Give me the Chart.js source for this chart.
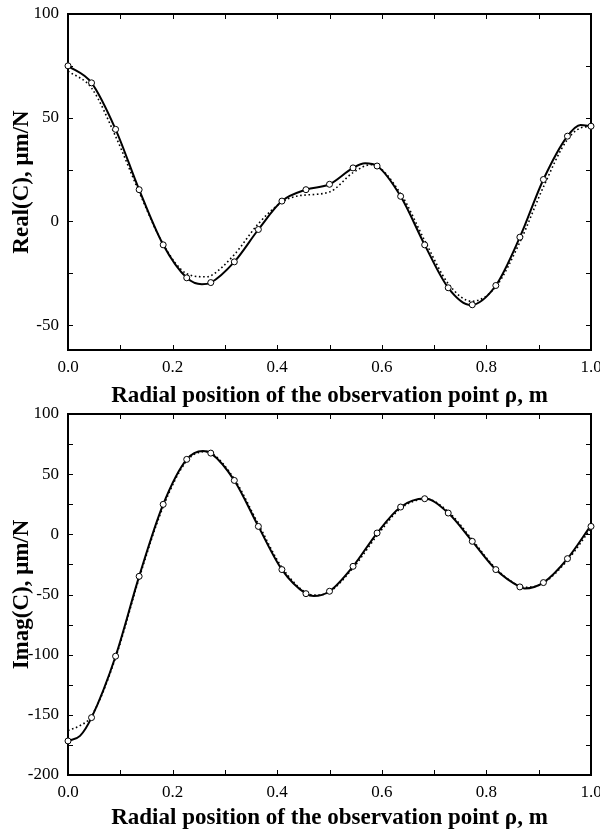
<!DOCTYPE html>
<html>
<head>
<meta charset="utf-8">
<script src="https://cdn.jsdelivr.net/npm/chart.js@4.4.1/dist/chart.umd.min.js"></script>
<style>
  html, body { margin: 0; padding: 0; background: #fff; }
  body { width: 600px; height: 836px; position: relative; overflow: hidden; }
  .box { position: absolute; left: 0; width: 600px; }
  #top { top: 0; height: 410px; }
  #bot { top: 400px; height: 436px; }
</style>
</head>
<body>
<div class="box" id="top"><canvas id="realChart" width="600" height="410"></canvas></div>
<div class="box" id="bot"><canvas id="imagChart" width="600" height="436"></canvas></div>
<script>
// sample points (open circles), same x positions for both panels
var circleX = [0, 0.045, 0.091, 0.136, 0.182, 0.227, 0.273, 0.318, 0.364, 0.409, 0.455, 0.5,
               0.545, 0.591, 0.636, 0.682, 0.727, 0.773, 0.818, 0.864, 0.909, 0.955, 1.0];

// Real(C)
var realCircleY = [75, 66.8, 44.4, 15.3, -11.3, -27.2, -29.5, -19.5, -3.9, 9.8, 15.3, 17.9,
                   25.8, 26.7, 12.1, -11.3, -32, -40.2, -30.9, -7.6, 20.2, 41.1, 45.9];
var realSolidX = [0, 0.045, 0.091, 0.136, 0.182, 0.227, 0.256, 0.273, 0.318, 0.364, 0.409, 0.455, 0.5,
                  0.545, 0.568, 0.591, 0.636, 0.682, 0.727, 0.77, 0.818, 0.864, 0.909, 0.955, 0.98, 1.0];
var realSolidY = [75, 66.8, 44.4, 15.3, -11.3, -27.2, -30.3, -29.5, -19.5, -3.9, 9.8, 15.3, 17.9,
                  25.8, 28.0, 26.7, 12.1, -11.3, -32, -40.3, -30.9, -7.6, 20.2, 41.1, 46.5, 45.9];
var realDotX = [0, 0.045, 0.091, 0.136, 0.182, 0.227, 0.262, 0.273, 0.318, 0.364, 0.409, 0.44, 0.5,
                0.545, 0.58, 0.636, 0.682, 0.727, 0.772, 0.818, 0.864, 0.909, 0.955, 0.99, 1.0];
var realDotY = [72.5, 64.3, 41, 14.2, -11, -25.2, -26.7, -26.2, -16, -1.1, 9.3, 12.3, 14.2,
                23.5, 27.4, 13.4, -9.2, -30, -38.5, -31.5, -10, 16.6, 39.5, 45.6, 45.3];

// Imag(C)
var imagCircleY = [-171.7, -152.3, -101.3, -34.9, 24.9, 62.3, 67.5, 44.8, 6.6, -29.3, -49.3, -47.3,
                   -26.6, 1.1, 22.7, 29.6, 17.7, -5.8, -29.3, -43.7, -40.1, -20.2, 6.6];
var imagSolidX = [0, 0.023, 0.045, 0.091, 0.136, 0.182, 0.227, 0.258, 0.273, 0.318, 0.364, 0.409, 0.455, 0.47, 0.5,
                  0.545, 0.591, 0.636, 0.682, 0.727, 0.773, 0.818, 0.864, 0.873, 0.909, 0.955, 1.0];
var imagSolidY = [-171.7, -167.5, -152.3, -101.3, -34.9, 24.9, 62.3, 69.3, 67.5, 44.8, 6.6, -29.3, -49.3, -51.3, -47.3,
                  -26.6, 1.1, 22.7, 29.7, 17.7, -5.8, -29.3, -43.7, -45, -40.1, -20.2, 7.5];
var imagDotX = [0, 0.023, 0.045, 0.091, 0.136, 0.182, 0.227, 0.262, 0.273, 0.318, 0.364, 0.409, 0.455, 0.475, 0.5,
                0.545, 0.591, 0.636, 0.685, 0.727, 0.773, 0.818, 0.864, 0.877, 0.909, 0.955, 1.0];
var imagDotY = [-163, -159, -151, -102.5, -36.5, 23, 61, 68.7, 67.8, 46, 8.5, -27.5, -48.5, -50.5, -47.8,
                -28, -1, 21.5, 29.4, 18.8, -4.5, -28.5, -43, -44, -40.5, -21.5, 5];

// tick labels
var xTicks = [0, 0.2, 0.4, 0.6, 0.8, 1.0];
var realYTicks = [-50, 0, 50, 100];
var imagYTicks = [-200, -150, -100, -50, 0, 50, 100];

var xTitle = 'Radial position of the observation point \u03C1, m';

Chart.defaults.font.family = "'Liberation Serif', 'Times New Roman', serif";
Chart.defaults.color = '#000';

function pts(xs, ys) {
    return xs.map(function (x, i) { return {x: x, y: ys[i]}; });
}

// box + inward ticks on all four sides
var frameTicks = {
    id: 'frameTicks',
    beforeDatasetsDraw: function (chart, args, opts) {
        var ctx = chart.ctx, a = chart.chartArea;
        var xs = chart.scales.x, ys = chart.scales.y;
        ctx.save();
        ctx.strokeStyle = '#000';
        ctx.lineWidth = 1;
        ctx.beginPath();
        for (var v = xs.min; v <= xs.max + 1e-9; v += opts.xStep) {
            var px = Math.round(xs.getPixelForValue(v)) + 0.5;
            ctx.moveTo(px, a.bottom); ctx.lineTo(px, a.bottom - 5);
            ctx.moveTo(px, a.top); ctx.lineTo(px, a.top + 5);
        }
        var start = Math.ceil(ys.min / opts.yStep) * opts.yStep;
        for (var w = start; w <= ys.max + 1e-9; w += opts.yStep) {
            var py = Math.round(ys.getPixelForValue(w)) + 0.5;
            ctx.moveTo(a.left, py); ctx.lineTo(a.left + 5, py);
            ctx.moveTo(a.right, py); ctx.lineTo(a.right - 5, py);
        }
        ctx.stroke();
        ctx.lineWidth = 2;
        ctx.strokeRect(a.left, a.top, a.right - a.left, a.bottom - a.top);
        ctx.restore();
    }
};

function makeChart(id, c) {
    var ctx = document.getElementById(id).getContext('2d');
    return new Chart(ctx, {
        type: 'line',
        data: {
            datasets: [{
                data: pts(circleX, c.circleY),
                showLine: false,
                pointRadius: 3,
                pointBackgroundColor: '#fff',
                pointBorderColor: '#000',
                pointBorderWidth: 1,
                clip: false
            }, {
                data: pts(c.solidX, c.solidY),
                borderColor: '#000',
                borderWidth: 2,
                pointRadius: 0,
                cubicInterpolationMode: 'monotone',
                clip: false
            }, {
                data: pts(c.dotX, c.dotY),
                borderColor: '#000',
                borderWidth: 1.6,
                borderDash: [1.6, 2.6],
                pointRadius: 0,
                cubicInterpolationMode: 'monotone',
                clip: false
            }]
        },
        options: {
            responsive: false,
            animation: false,
            events: [],
            layout: { padding: { top: 14, right: 9, left: 0, bottom: 0 } },
            plugins: {
                legend: { display: false },
                tooltip: { enabled: false },
                frameTicks: { xStep: 0.1, yStep: 25 }
            },
            scales: {
                x: {
                    type: 'linear',
                    min: 0,
                    max: 1,
                    grid: { display: false, drawTicks: false },
                    border: { display: false },
                    afterBuildTicks: function (s) {
                        s.ticks = xTicks.map(function (v) { return {value: v}; });
                    },
                    afterFit: function (s) {
                        s.height = c.xHeight;
                        s.paddingLeft = 0; s.paddingRight = 0;
                    },
                    ticks: {
                        padding: 7,
                        maxRotation: 0,
                        autoSkip: false,
                        font: { size: 17 },
                        callback: function (v) { return v.toFixed(1); }
                    },
                    title: {
                        display: true,
                        text: xTitle,
                        font: { size: 23, weight: 'bold' },
                        padding: { top: 0, bottom: c.titlePad }
                    }
                },
                y: {
                    min: c.yMin,
                    max: c.yMax,
                    grid: { display: false, drawTicks: false },
                    border: { display: false },
                    afterBuildTicks: function (s) {
                        s.ticks = c.yTicks.map(function (v) { return {value: v}; });
                    },
                    afterFit: function (s) {
                        s.width = 68;
                        s.paddingTop = 0; s.paddingBottom = 0;
                    },
                    ticks: {
                        padding: 9,
                        autoSkip: false,
                        font: { size: 17 }
                    },
                    title: {
                        display: true,
                        text: c.yTitle,
                        font: { size: 23, weight: 'bold' },
                        padding: { top: 8, bottom: 0 }
                    }
                }
            }
        },
        plugins: [frameTicks]
    });
}

makeChart('realChart', {
    circleY: realCircleY, solidX: realSolidX, solidY: realSolidY, dotX: realDotX, dotY: realDotY,
    yMin: -62, yMax: 100, yTicks: realYTicks, yTitle: 'Real(C), \u03BCm/N',
    xHeight: 60, titlePad: 0
});

makeChart('imagChart', {
    circleY: imagCircleY, solidX: imagSolidX, solidY: imagSolidY, dotX: imagDotX, dotY: imagDotY,
    yMin: -200, yMax: 100, yTicks: imagYTicks, yTitle: 'Imag(C), \u03BCm/N',
    xHeight: 61, titlePad: 4
});
</script>
</body>
</html>
